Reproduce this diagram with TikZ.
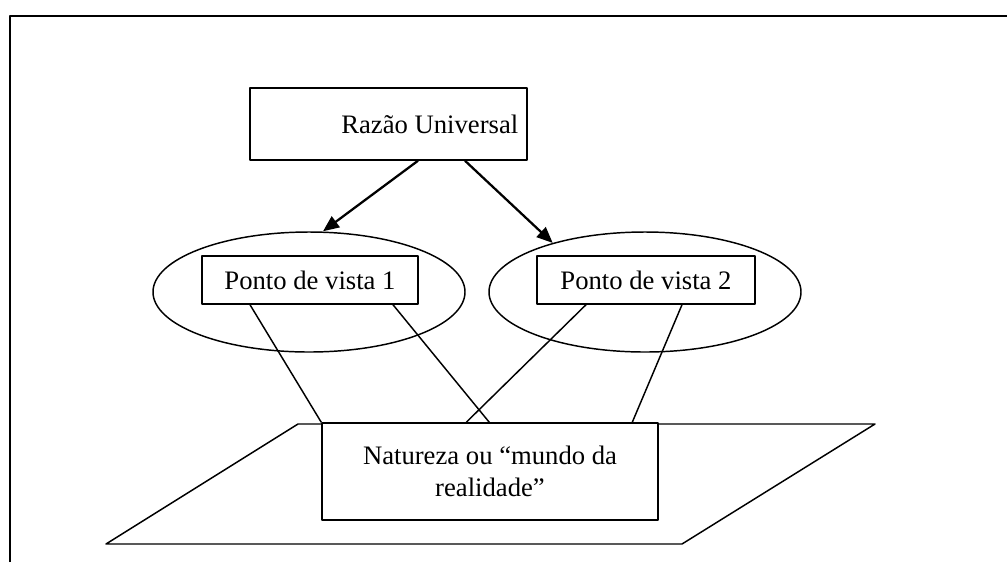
\documentclass[tikz,border=0pt]{standalone}
\usepackage{fontspec}
\setmainfont{Liberation Serif}
\usetikzlibrary{shapes.geometric,arrows.meta,calc}
\begin{document}
\begin{tikzpicture}[x=0.75pt,y=-0.75pt, line width=1.1pt, line join=round,
  font=\fontsize{20}{24}\selectfont,
  caixa/.style={draw, fill=white, inner sep=0pt, align=center},
  elipse/.style={draw, ellipse, inner sep=0pt, minimum width=234pt, minimum height=90pt},
  seta/.style={line width=1.7pt, -{Triangle[length=12pt,width=10pt]}}]
\useasboundingbox (0,0) rectangle (1007,562);
% moldura
\draw[line width=1.5pt] (10,562) -- (10,16) -- (1007,16);
% plano da natureza
\draw (106,544) -- (682,544) -- (875,424) -- (298,424) -- cycle;
\node[elipse] (el1) at (309,292) {};
\node[elipse] (el2) at (645,292) {};
\node[caixa, minimum width=207.75pt, minimum height=54pt] (razao) at (388.5,124) {\hspace*{62pt}Razão Universal};
\node[caixa, minimum width=162pt, minimum height=36pt] (pv1) at (310,280) {Ponto de vista 1};
\node[caixa, minimum width=163.5pt, minimum height=36pt] (pv2) at (646,280) {Ponto de vista 2};
\node[caixa, minimum width=252pt, minimum height=72.75pt] (natureza) at (490,471.5) {Natureza ou “mundo da\\realidade”};
% setas
\draw[seta] ($(razao.south)+(29.5,0)$) -- ($(el1.north)+(14,0)$);
\draw[seta] ($(razao.south)+(76.5,0)$) -- (el2.152);
% linhas
\draw ($(pv1.south)+(-60,0)$) -- (natureza.north west);
\draw ($(pv1.south)+(83,0)$) -- ($(natureza.north west)+(168,0)$);
\draw ($(pv2.south)+(-60,0)$) -- ($(natureza.north west)+(145,0)$);
\draw ($(pv2.south)+(36,0)$) -- ($(natureza.north west)+(311,0)$);
\end{tikzpicture}
\end{document}
